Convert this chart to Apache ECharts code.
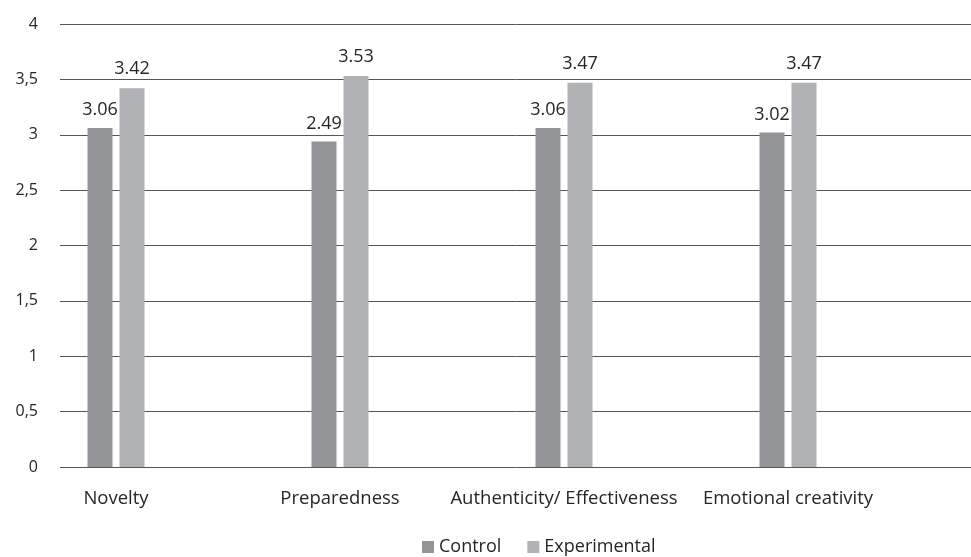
<!DOCTYPE html>
<html>
<head>
<meta charset="utf-8">
<script src="https://cdn.jsdelivr.net/npm/echarts@6/dist/echarts.min.js"></script>
<style>
html,body{margin:0;padding:0;background:#fff;}
#chart{width:971px;height:557px;}
</style>
</head>
<body>
<div id="chart"></div>
<script>
var categories = ['Novelty', 'Preparedness', 'Authenticity/ Effectiveness', 'Emotional creativity'];
var controlValues = [3.06, 2.94, 3.06, 3.02];
var controlLabels = ['3.06', '2.49', '3.06', '3.02'];
var experimentalValues = [3.42, 3.53, 3.47, 3.47];
var experimentalLabels = ['3.42', '3.53', '3.47', '3.47'];
var seriesNames = ['Control', 'Experimental'];
var yTicks = {min: 0, max: 4, interval: 0.5};

var FONT = 'Open Sans';
var chart = echarts.init(document.getElementById('chart'), null, {renderer: 'canvas'});
chart.setOption({
  animation: false,
  backgroundColor: '#ffffff',
  textStyle: {fontFamily: FONT},
  legend: {
    top: 533,
    left: 417,
    itemWidth: 12,
    itemHeight: 12,
    itemGap: 26,
    icon: 'rect',
    textStyle: {fontFamily: FONT, fontSize: 18, color: '#262626'},
    data: seriesNames
  },
  grid: [
    {left: 60, right: 0, top: 24, bottom: 90, containLabel: false},
    {left: 4, width: 896, top: 24, bottom: 90, containLabel: false}
  ],
  xAxis: [
    {gridIndex: 0, type: 'category', data: categories, show: false},
    {
      gridIndex: 1, type: 'category', data: categories,
      axisLine: {show: false}, axisTick: {show: false},
      axisLabel: {interval: 0, hideOverlap: false, fontFamily: FONT, fontSize: 18.5, color: '#262626', margin: 22}
    }
  ],
  yAxis: [
    {
      gridIndex: 0, type: 'value', min: yTicks.min, max: yTicks.max, interval: yTicks.interval,
      axisLine: {show: false}, axisTick: {show: false},
      axisLabel: {
        fontFamily: FONT, fontSize: 16, color: '#262626', margin: 22,
        formatter: function (v) { return String(v).replace('.', ','); }
      },
      splitLine: {lineStyle: {color: '#555555', width: 1}}
    },
    {
      gridIndex: 1, type: 'value', min: yTicks.min, max: yTicks.max, interval: yTicks.interval,
      show: false, splitLine: {show: false}
    }
  ],
  series: [
    {
      name: seriesNames[0], type: 'bar', xAxisIndex: 1, yAxisIndex: 1,
      data: controlValues, barWidth: 25, barGap: '28%',
      itemStyle: {color: '#939497'},
      label: {
        show: true, position: 'top', distance: 9,
        fontFamily: FONT, fontSize: 18, color: '#262626',
        formatter: function (p) { return controlLabels[p.dataIndex]; }
      }
    },
    {
      name: seriesNames[1], type: 'bar', xAxisIndex: 1, yAxisIndex: 1,
      data: experimentalValues, barWidth: 25, barGap: '28%',
      itemStyle: {color: '#b1b2b5'},
      label: {
        show: true, position: 'top', distance: 10,
        fontFamily: FONT, fontSize: 18, color: '#262626',
        formatter: function (p) { return experimentalLabels[p.dataIndex]; }
      }
    }
  ]
});
</script>
</body>
</html>
